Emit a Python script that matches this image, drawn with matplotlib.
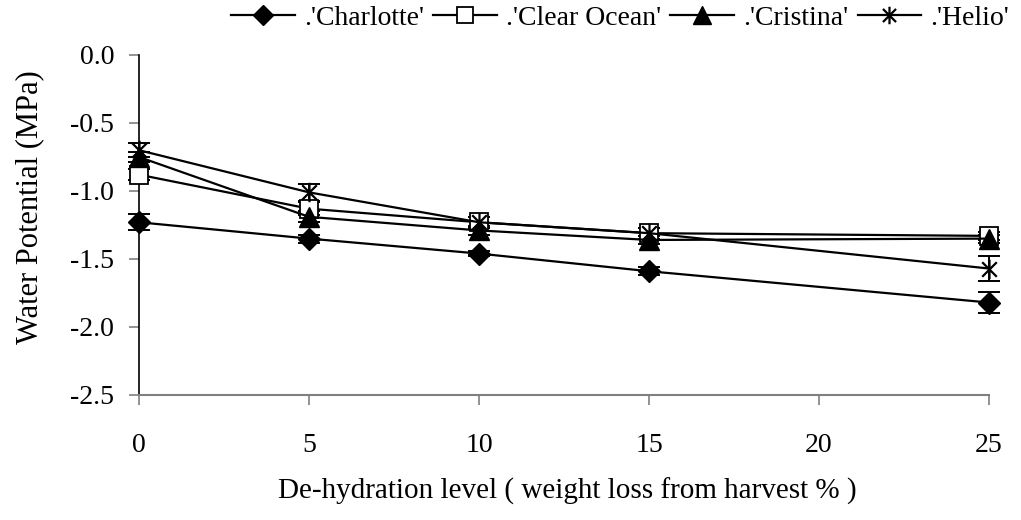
import matplotlib
matplotlib.use("Agg")
import matplotlib.pyplot as plt
from matplotlib.path import Path
import numpy as np

plt.rcParams['font.family'] = ['Liberation Serif', 'DejaVu Serif']

x = [0, 5, 10, 15, 25]
charlotte = [-1.23, -1.35, -1.46, -1.59, -1.82]
charlotte_err = [0.06, 0.03, 0.02, 0.03, 0.08]
clear_ocean = [-0.88, -1.13, -1.23, -1.31, -1.33]
clear_ocean_err = [0.04, 0.05, 0.04, 0.04, 0.03]
cristina = [-0.75, -1.19, -1.29, -1.36, -1.35]
cristina_err = [0.04, 0.04, 0.03, 0.03, 0.03]
helio = [-0.70, -1.01, -1.23, -1.31, -1.57]
helio_err = [0.05, 0.06, 0.04, 0.04, 0.09]
labels = [".'Charlotte'", ".'Clear Ocean'", ".'Cristina'", ".'Helio'"]
xticks = [0, 5, 10, 15, 20, 25]
yticks = [0.0, -0.5, -1.0, -1.5, -2.0, -2.5]

# asterisk marker: vertical bar plus an X
star = Path([(0, -1), (0, 1), (-0.75, -0.75), (0.75, 0.75), (-0.75, 0.75), (0.75, -0.75)],
            [Path.MOVETO, Path.LINETO, Path.MOVETO, Path.LINETO, Path.MOVETO, Path.LINETO])

fig = plt.figure(figsize=(10.21, 5.20), dpi=100)
ax = fig.add_axes([139/1021, 1 - 395/520, (989 - 139)/1021, (395 - 55)/520])

series = [
    (charlotte, charlotte_err, dict(marker='D', markersize=11.5, mfc='black', mec='black')),
    (clear_ocean, clear_ocean_err, dict(marker='s', markersize=12.5, mfc='white', mec='black', mew=1.3)),
    (cristina, cristina_err, dict(marker='^', markersize=14, mfc='black', mec='black')),
    (helio, helio_err, dict(marker=star, markersize=14, mfc='none', mec='black', mew=1.6)),
]
handles = []
for (vals, err, st), lab in zip(series, labels):
    eb = ax.errorbar(x, vals, yerr=err, fmt='none', ecolor='black', elinewidth=1.4,
                     capsize=8, capthick=1.4, zorder=2)
    for art in eb.lines[1]:
        art.set_clip_on(False)
    for coll in eb.lines[2]:
        coll.set_clip_on(False)
    h, = ax.plot(x, vals, color='black', lw=1.6, label=lab, zorder=3, clip_on=False, **st)
    handles.append(h)

ax.set_xlim(0, 25)
ax.set_ylim(-2.5, 0.0)
ax.set_xticks(xticks)
ax.set_yticks(yticks)
ax.set_yticklabels([f"{v:.1f}" for v in yticks])
ax.spines['top'].set_visible(False)
ax.spines['right'].set_visible(False)
ax.spines['left'].set_color('black')
ax.spines['left'].set_linewidth(1.2)
ax.spines['bottom'].set_color('#808080')
ax.spines['bottom'].set_linewidth(1.5)
ax.tick_params(axis='x', direction='out', length=7, width=1.2, color='#808080',
               labelsize=20, pad=20)
ax.tick_params(axis='y', direction='out', length=7, width=1.2, color='#808080',
               labelsize=20, pad=11)

fig.text(30/1021, 1 - 207/520, 'Water Potential (MPa)', rotation=90,
         ha='center', va='center', fontsize=22)
fig.text(567/1021, 1 - 491/520, 'De-hydration level ( weight loss from harvest % )',
         ha='center', va='center', fontsize=21)

leg = fig.legend(handles=handles, labels=labels, loc='center', ncol=4,
                 bbox_to_anchor=(620/1021, 1 - 18/520), frameon=False,
                 fontsize=20, handlelength=2.3, handletextpad=0.3,
                 columnspacing=0.35, markerscale=0.9, borderaxespad=0, borderpad=0)

fig.savefig('out.png', dpi=100)
